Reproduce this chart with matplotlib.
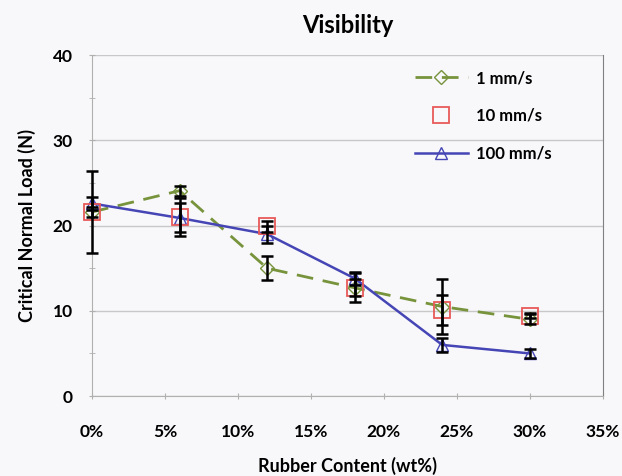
import numpy as np
import matplotlib
matplotlib.use("Agg")
import matplotlib.pyplot as plt

plt.rcParams["font.family"] = ["Lato", "DejaVu Sans"]
plt.rcParams["font.weight"] = "bold"

rubber = [0, 6, 12, 18, 24, 30]          # wt%
load_1 = [21.6, 24.1, 15.0, 12.7, 10.5, 9.0]
load_10 = [21.6, 21.0, 19.9, 12.7, 10.1, 9.4]
load_100 = [22.6, 20.9, 19.0, 13.8, 6.0, 5.0]
err_1 = [4.8, 0.6, 1.4, 1.7, 3.2, 0.6]
err_10 = [0.6, 2.2, 0.7, 1.0, 1.8, 0.3]
err_100 = [0.8, 1.7, 1.0, 0.8, 0.8, 0.5]
xticks = [0, 5, 10, 15, 20, 25, 30, 35]
yticks = [0, 10, 20, 30, 40]

green, red, blue = "#77933C", "#E85A5A", "#4545B5"
bg = "#f8f8fa"

fig = plt.figure(figsize=(6.22, 4.76), dpi=100, facecolor=bg)
ax = fig.add_axes([0.148, 0.168, 0.821, 0.716], facecolor=bg)

ax.plot(rubber, load_1, "--", color=green, lw=2, dashes=(6, 3.5), marker="D", ms=7,
        mfc="none", mec=green, label="1 mm/s", zorder=3, clip_on=False)
ax.plot(rubber, load_10, "s", ms=11, mfc="none", mec=red, mew=1.3,
        label="10 mm/s", zorder=4, clip_on=False)
ax.plot(rubber, load_100, "-", color=blue, lw=1.8, marker="^", ms=9,
        mfc="none", mec=blue, label="100 mm/s", zorder=3, clip_on=False)
for ys, es in [(load_1, err_1), (load_10, err_10), (load_100, err_100)]:
    eb = ax.errorbar(rubber, ys, yerr=es, fmt="none", ecolor="black", elinewidth=1.8,
                     capsize=4, capthick=1.8, zorder=5)
    for art in eb.lines[1] + eb.lines[2]:
        art.set_clip_on(False)

ax.set_xlim(0, 35)
ax.set_ylim(0, 40)
ax.set_xticks(xticks)
ax.set_xticklabels([f"{t}%" for t in xticks])
ax.set_yticks(yticks)
ax.set_yticks([5, 15, 25, 35], minor=True)
ax.yaxis.grid(True, color="#c8c8c8", lw=1)
ax.set_axisbelow(True)
ax.spines["top"].set_visible(False)
ax.spines["left"].set_color("#b0b0b0")
ax.spines["bottom"].set_color("#b0b0b0")
ax.spines["right"].set_color("#808080")
ax.tick_params(axis="both", labelsize=12.5, length=4, color="#b0b0b0")
ax.tick_params(axis="x", direction="inout", pad=18)
ax.tick_params(axis="y", which="both", direction="inout", length=4,
               color="#b0b0b0", pad=12)
ax.set_xlabel("Rubber Content (wt%)", fontsize=13, fontweight="bold", labelpad=12)
ax.set_ylabel("Critical Normal Load (N)", fontsize=13, fontweight="bold", labelpad=12)
ax.set_title("Visibility", fontsize=17, fontweight="bold", pad=16)

ax.legend(loc="upper right", bbox_to_anchor=(0.93, 1.0), frameon=False,
          fontsize=12, handlelength=3.2, labelspacing=1.3, handletextpad=0.5)

fig.savefig("out.png", dpi=100, facecolor=bg)
